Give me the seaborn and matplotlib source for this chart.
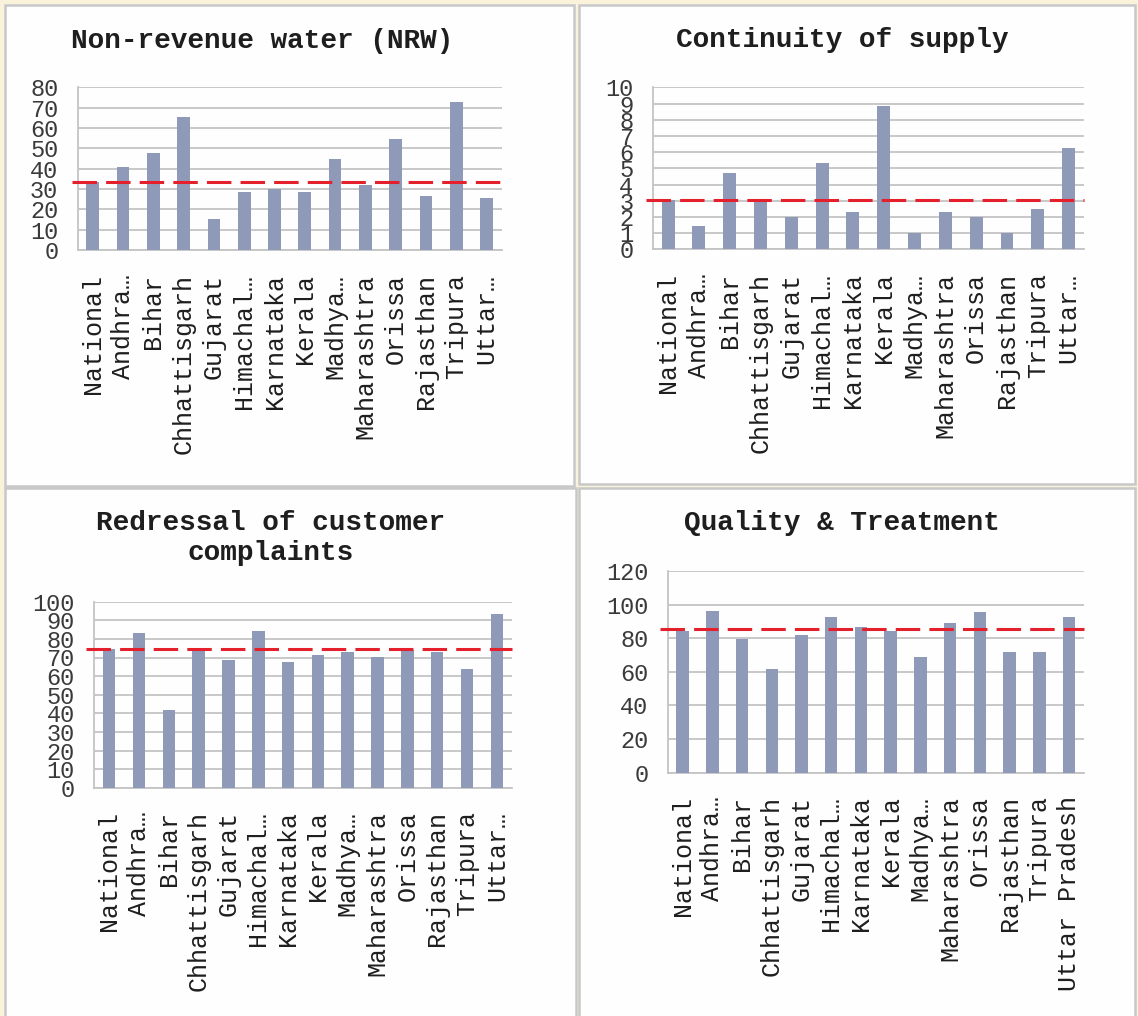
import matplotlib
matplotlib.use("Agg")
import matplotlib.pyplot as plt
from matplotlib.patches import Rectangle
import seaborn as sns
import pandas as pd

# ---------------- data ----------------
states = ["National", "Andhra…", "Bihar", "Chhattisgarh", "Gujarat", "Himachal…",
          "Karnataka", "Kerala", "Madhya…", "Maharashtra", "Orissa", "Rajasthan",
          "Tripura", "Uttar…"]
states_q = ["National", "Andhra…", "Bihar", "Chhattisgarh", "Gujarat", "Himachal…",
            "Karnataka", "Kerala", "Madhya…", "Maharashtra", "Orissa", "Rajasthan",
            "Tripura", "Uttar Pradesh"]

nrw = [33.3, 41.0, 47.7, 65.2, 15.1, 28.7, 30.2, 28.7, 44.6, 31.8, 54.4, 26.4, 72.8, 25.6]
continuity = [3.05, 1.44, 4.69, 3.05, 1.98, 5.31, 2.30, 8.85, 1.03, 2.30, 2.02, 1.03, 2.49, 6.28]
redressal = [74.4, 83.3, 41.6, 74.4, 68.5, 84.2, 67.7, 71.3, 72.8, 70.3, 74.0, 72.8, 63.8, 93.5]
quality = [84.3, 96.2, 79.6, 61.7, 81.7, 92.9, 86.7, 84.5, 69.0, 89.1, 95.4, 71.6, 71.6, 92.7]

national_lines = [33.3, 3.05, 74.6, 85.3]
titles = ["Non-revenue water (NRW)", "Continuity of supply",
          "Redressal of customer\ncomplaints", "Quality & Treatment"]
y_max = [80, 10, 100, 120]
y_step = [10, 1, 10, 20]

# ---------------- style ----------------
sns.set_style("white")
plt.rcParams["font.family"] = ["Liberation Mono", "DejaVu Sans Mono"]

W, H = 1138, 1016
fig = plt.figure(figsize=(W / 100, H / 100), dpi=100)
fig.patch.set_facecolor("#FBF2DC")

BAR = "#8E9AB8"
RED = "#E3202C"
GRID = "#C4C4C4"
TXT = "#1E1E1E"

def fx(px):
    return px / W

def fy(py):
    return 1 - py / H

# panel backgrounds (pixel boxes: left, top, right, bottom)
panels = [(5, 5, 574, 486), (579, 5, 1135, 484), (5, 488, 576, 1020), (579, 488, 1135, 1020)]
for (l, t, r, b) in panels:
    fig.patches.append(Rectangle((fx(l), fy(b)), fx(r - l), (b - t) / H,
                                 transform=fig.transFigure, facecolor="#FEFEFE",
                                 edgecolor="#C8C8C8", linewidth=1.8, zorder=-5))

# plot area boxes in pixels: left, top, right, bottom
areas = [(77.7, 87.3, 501.7, 250.0), (652.7, 87.3, 1084.0, 249.3),
         (94.3, 601.7, 511.7, 787.7), (667.7, 571.0, 1084.0, 772.7)]
title_pos = [(262, 41), (842, 40), (271, 538), (842, 523)]
series = [nrw, continuity, redressal, quality]
labels = [states, states, states, states_q]
line_start = [-0.013, -0.016, -0.02, -0.018]

for i in range(4):
    l, t, r, b = areas[i]
    ax = fig.add_axes([fx(l), fy(b), fx(r - l), (b - t) / H])
    ax.set_facecolor("none")
    ax.set_zorder(2)
    df = pd.DataFrame({"state": labels[i], "value": series[i]})
    sns.barplot(data=df, x="state", y="value", ax=ax, color=BAR, saturation=1,
                width=0.42, linewidth=0, edgecolor="none", zorder=3)
    n = len(df)
    ax.set_xlim(-0.5, n - 0.5)
    ax.set_ylim(0, y_max[i])
    ticks = list(range(0, y_max[i] + 1, y_step[i]))
    ax.set_yticks(ticks)
    ax.set_yticklabels([str(v) for v in ticks])
    ax.yaxis.grid(True, color=GRID, linewidth=1.3, zorder=0)
    ax.set_axisbelow(True)
    ax.set_xlabel("")
    ax.set_ylabel("")
    for s in ["top", "right"]:
        ax.spines[s].set_visible(False)
    for s in ["left", "bottom"]:
        ax.spines[s].set_color(GRID)
        ax.spines[s].set_linewidth(1.3)
    ax.set_xticks(range(n))
    ax.set_xticklabels(labels[i], rotation=90, fontsize=18, color=TXT)
    ax.set_xticks([k - 0.5 for k in range(n + 1)], minor=True)
    ax.tick_params(axis="x", which="major", length=0, pad=17)
    ax.tick_params(axis="x", which="minor", length=6, color=GRID, width=1.3)
    ax.tick_params(axis="y", which="major", length=6, color=GRID, width=1.3,
                   labelsize=17, labelcolor="#3A3A3A", pad=8)
    ax.axhline(national_lines[i], xmin=line_start[i], xmax=1.0, color=RED,
               linewidth=2.2, dashes=(8, 3), clip_on=False, zorder=5)
    tx, ty = title_pos[i]
    fig.text(fx(tx), fy(ty), titles[i], ha="center", va="center", fontsize=20,
             fontweight="bold", color=TXT, linespacing=1.25)

fig.savefig("out.png", dpi=100, facecolor=fig.get_facecolor())
